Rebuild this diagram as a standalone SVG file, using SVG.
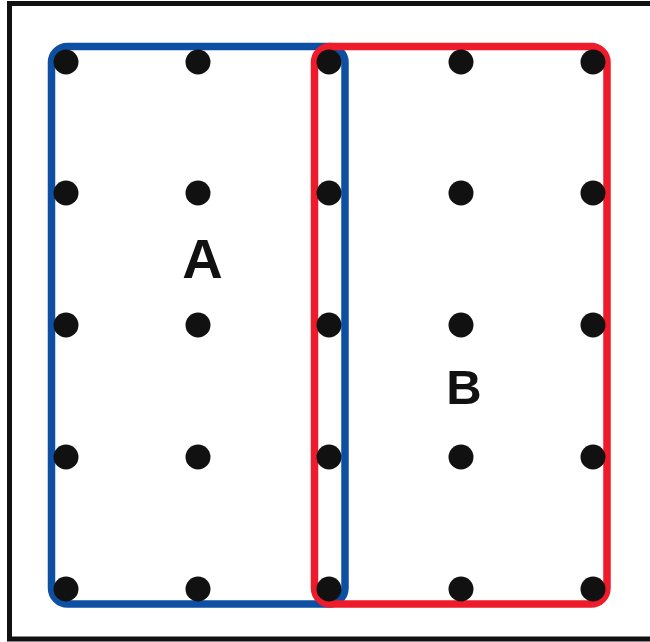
<svg xmlns="http://www.w3.org/2000/svg" width="650" height="642" viewBox="0 0 650 642">
<style>
.frame{fill:none;stroke:#111;stroke-width:5}
.region{fill:none;stroke-width:7.5}
.dot{fill:#111}
.lbl{font-family:"Liberation Sans",Arial,sans-serif;font-weight:bold;fill:#111;text-anchor:middle}
</style>
<rect x="0" y="0" width="650" height="642" fill="#fff"/>
<rect class="frame" x="9.5" y="3.5" width="660" height="635.5"/>
<g id="connectors">
<g id="regionA"><rect class="region" stroke="#0d4fa3" x="51.5" y="46.5" width="293.5" height="557.5" rx="16"/></g>
<g id="regionB"><rect class="region" stroke="#ee1c2a" x="314.5" y="46.5" width="292.5" height="557.5" rx="16"/></g>
</g>
<g id="dots">
<g class="dot">
<circle cx="66" cy="62" r="12.5"/><circle cx="198" cy="62" r="12.5"/><circle cx="329" cy="62" r="12.5"/><circle cx="461" cy="62" r="12.5"/><circle cx="593" cy="62" r="12.5"/>
<circle cx="66" cy="193" r="12.5"/><circle cx="198" cy="193" r="12.5"/><circle cx="329" cy="193" r="12.5"/><circle cx="461" cy="193" r="12.5"/><circle cx="593" cy="193" r="12.5"/>
<circle cx="66" cy="325" r="12.5"/><circle cx="198" cy="325" r="12.5"/><circle cx="329" cy="325" r="12.5"/><circle cx="461" cy="325" r="12.5"/><circle cx="593" cy="325" r="12.5"/>
<circle cx="66" cy="457" r="12.5"/><circle cx="198" cy="457" r="12.5"/><circle cx="329" cy="457" r="12.5"/><circle cx="461" cy="457" r="12.5"/><circle cx="593" cy="457" r="12.5"/>
<circle cx="66" cy="589" r="12.5"/><circle cx="198" cy="589" r="12.5"/><circle cx="329" cy="589" r="12.5"/><circle cx="461" cy="589" r="12.5"/><circle cx="593" cy="589" r="12.5"/>
</g>
</g>
<g id="labelA"><text class="lbl" x="202.5" y="278" font-size="56">A</text></g>
<g id="labelB"><text class="lbl" x="464" y="403.5" font-size="49">B</text></g>
</svg>
